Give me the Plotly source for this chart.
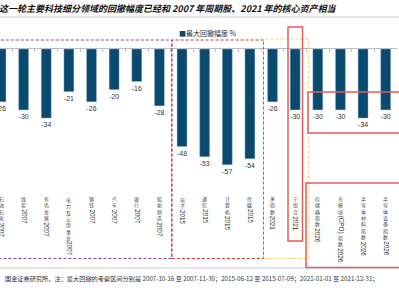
import re
import plotly.graph_objects as go

categories = ["石油石化2007", "煤炭2007", "有色金属2007", "电力及公用事业2007", "钢铁2007",
              "汽车2007", "银行2007", "船舶制造2007", "电子2015", "通信2015", "计算机2015",
              "传媒2015", "茅指数2021", "宁组合2021", "存储器指数2026", "光模块(CPO)指数2026",
              "半导体材料指数2026", "半导体设备指数2026"]
drawdown = [-26, -30, -34, -21, -26, -20, -16, -28, -48, -53, -57, -54, -26, -30, -30, -30, -34, -30]
series_name = "最大回撤幅度 %"
title_text = "这一轮主要科技细分领域的回撤幅度已经和 2007 年周期股、2021 年的核心资产相当"
note_text = ("国金证券研究所。注：最大回撤的考察区间分别是 2007-10-16 至 2007-11-30；"
             "2015-06-12 至 2015-07-09；2021-01-01 至 2021-12-31；")

W, H = 399, 300
ML, MR, MT, MB = 0, 2, 49, 120
PW, PH = W - ML - MR, H - MT - MB
BAR = "#0b4a6f"
CJK = "Noto Sans CJK SC"


def py(pix):
    return 1 - (pix - MT) / PH


def px(pix):
    return (pix - ML) / PW


fig = go.Figure()
fig.add_trace(go.Bar(
    x=categories, y=drawdown, name=series_name,
    marker=dict(color=BAR, line=dict(color="#9fc3d8", width=0.4)),
    width=0.44,
    text=[str(v) for v in drawdown], textposition="outside",
    textfont=dict(size=7.5, color="#333333", family="Liberation Sans"),
    cliponaxis=False, showlegend=False,
))

annotations = []
# vertical category labels: CJK characters stacked upright, latin/digit runs rotated
LABEL_TOP = 196
CFS = 4.9            # CJK font size
PITCH = CFS * 1.3    # plotly line spacing
DFS = 6.3            # digit font size
for cat in categories:
    off = 0.0
    for tok in re.findall(r"[A-Za-z0-9()]+|[^A-Za-z0-9()]+", cat):
        if re.match(r"[A-Za-z0-9()]", tok):
            ln = len(tok) * 0.56 * DFS
            annotations.append(dict(x=cat, xref="x", y=py(LABEL_TOP + off + ln / 2 + 0.8), yref="paper",
                                    text=tok, textangle=90, showarrow=False,
                                    xanchor="center", yanchor="middle", borderpad=0,
                                    font=dict(size=DFS, color="#333333", family="Liberation Sans")))
            off += ln + 1.6
        else:
            h = len(tok) * PITCH
            annotations.append(dict(x=cat, xref="x", y=py(LABEL_TOP + off + h / 2), yref="paper",
                                    text="<br>".join(tok), showarrow=False,
                                    xanchor="center", yanchor="middle", borderpad=0,
                                    font=dict(size=CFS, color="#444444", family=CJK)))
            off += h + 0.4

annotations.append(dict(x=px(-3), xref="paper", y=py(9), yref="paper", xanchor="left", yanchor="middle",
                        text="<b><i>" + title_text + "</i></b>", showarrow=False,
                        font=dict(size=9, color="#111111", family=CJK)))
annotations.append(dict(x=px(177), xref="paper", y=py(33), yref="paper", xanchor="left", yanchor="middle",
                        text=f"<span style='color:{BAR}'>■</span>{series_name}", showarrow=False,
                        font=dict(size=7, color="#333333", family=CJK)))
annotations.append(dict(x=px(3), xref="paper", y=py(278), yref="paper", xanchor="left", yanchor="middle",
                        text=note_text, showarrow=False,
                        font=dict(size=6.2, color="#333333", family=CJK)))

shapes = [
    dict(type="line", xref="paper", yref="paper", x0=px(0), x1=px(399), y0=py(17), y1=py(17),
         line=dict(color="#c9ced3", width=1)),
    dict(type="line", xref="paper", yref="paper", x0=px(0), x1=px(399), y0=py(268), y1=py(268),
         line=dict(color="#c9ced3", width=1)),
    dict(type="rect", xref="x", yref="paper", x0=-1, x1=7.55, y0=py(258.5), y1=py(40),
         line=dict(color="#8e44ad", width=1, dash="3px,2px")),
    dict(type="rect", xref="x", yref="paper", x0=7.55, x1=11.6, y0=py(258.5), y1=py(40),
         line=dict(color="#c0392b", width=1, dash="3px,2px")),
    dict(type="rect", xref="x", yref="paper", x0=11.6, x1=13.6, y0=py(258.5), y1=py(39),
         line=dict(color="#f4d35e", width=1, dash="3px,2px")),
    dict(type="rect", xref="paper", yref="paper", x0=px(288), x1=px(302.5), y0=py(241), y1=py(27),
         line=dict(color="#e45b5b", width=1.5)),
    dict(type="rect", xref="paper", yref="paper", x0=px(306), x1=px(410), y0=py(267.5), y1=py(183),
         line=dict(color="#e45b5b", width=1.5)),
    dict(type="rect", xref="paper", yref="paper", x0=px(308), x1=px(410), y0=py(133), y1=py(92),
         line=dict(color="#e45b5b", width=1.5)),
]

fig.update_layout(
    width=W, height=H, margin=dict(l=ML, r=MR, t=MT, b=MB),
    paper_bgcolor="white", plot_bgcolor="white",
    annotations=annotations, shapes=shapes, bargap=0.56,
    xaxis=dict(type="category", range=[-0.044, 17.5], side="top", showline=True,
               linecolor="#b8bec4", linewidth=1, ticks="inside", ticklen=3, tickcolor="#b8bec4",
               tickson="boundaries", showticklabels=False, showgrid=False, zeroline=False),
    yaxis=dict(range=[-64.5, 0], visible=False, showgrid=False, zeroline=False),
)

fig.write_html("out.html")
